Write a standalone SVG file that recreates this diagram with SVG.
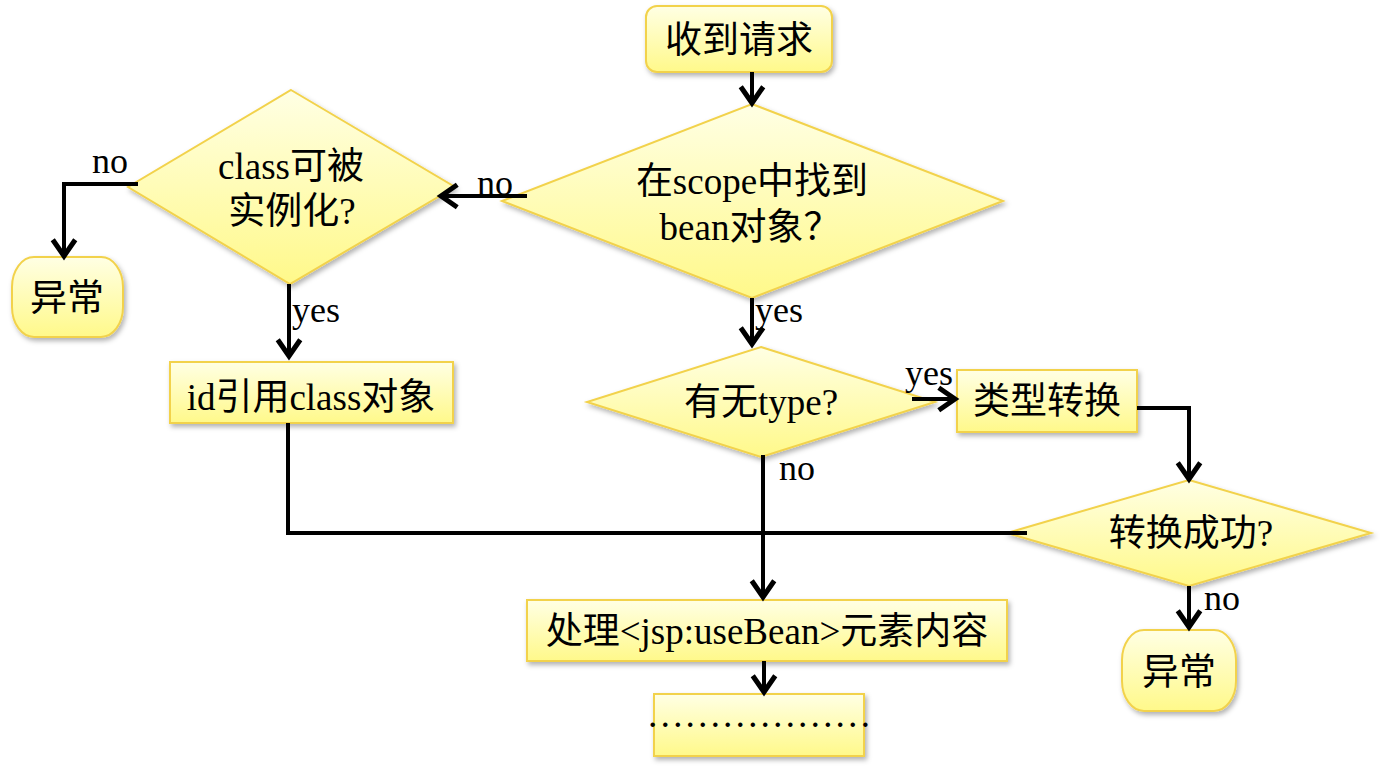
<svg xmlns="http://www.w3.org/2000/svg" width="1381" height="780" viewBox="0 0 1381 780">
<defs>
  <linearGradient id="yel" x1="0" y1="0" x2="0" y2="1">
    <stop offset="0" stop-color="#FFFFE4"/>
    <stop offset="1" stop-color="#FFF98A"/>
  </linearGradient>
  <filter id="sh" x="-10%" y="-10%" width="125%" height="130%">
    <feDropShadow dx="2" dy="3" stdDeviation="2.5" flood-color="#000" flood-opacity="0.3"/>
  </filter>
  <marker id="arr" markerUnits="userSpaceOnUse" markerWidth="30" markerHeight="30" refX="0" refY="0" viewBox="-18 -12 22 24" orient="auto">
    <path d="M-13,-9 L0,0 L-13,9" fill="none" stroke="#000" stroke-width="4" stroke-linejoin="miter"/>
  </marker>
  <style>
    .n{fill:url(#yel);stroke:#F2D24C;stroke-width:2;filter:url(#sh)}
    .t{font-family:"Liberation Serif","Noto Sans CJK SC",serif;font-size:37px;fill:#000;text-anchor:middle}
    .l{font-family:"Liberation Serif","Noto Sans CJK SC",serif;font-size:36px;fill:#000}
    .c{fill:none;stroke:#000;stroke-width:4}
    .a{marker-end:url(#arr)}
  </style>
</defs>
<rect width="1381" height="780" fill="#fff"/>

<g id="start">
  <rect class="n" x="646" y="6" width="186" height="66" rx="11"/>
  <text class="t" x="739" y="53">收到请求</text>
</g>
<g id="findBean">
  <polygon class="n" points="752,104 1003,201 752,298 502,201"/>
  <text class="t" x="752" y="194">在scope中找到</text>
  <text class="t" x="750" y="240">bean对象？</text>
</g>
<g id="canInstantiate">
  <polygon class="n" points="291,90 455,187 290,284 128,187"/>
  <text class="t" x="291" y="179">class可被</text>
  <text class="t" x="292" y="224">实例化?</text>
</g>
<g id="errorLeft">
  <rect class="n" x="12" y="257" width="111" height="80" rx="22" ry="30"/>
  <text class="t" x="67" y="311">异常</text>
</g>
<g id="idRef">
  <rect class="n" x="170" y="362" width="283" height="61"/>
  <text class="t" x="311" y="410">id引用class对象</text>
</g>
<g id="hasType">
  <polygon class="n" points="761,347 935,402 761,457 587,402"/>
  <text class="t" x="761" y="415">有无type?</text>
</g>
<g id="convert">
  <rect class="n" x="957" y="370" width="180" height="62"/>
  <text class="t" x="1047" y="414">类型转换</text>
</g>
<g id="convertOk">
  <polygon class="n" points="1189,480 1371,533 1189,586 1007,533"/>
  <text class="t" x="1191" y="546">转换成功?</text>
</g>
<g id="errorRight">
  <rect class="n" x="1122" y="630" width="114" height="81" rx="22" ry="30"/>
  <text class="t" x="1179" y="685">异常</text>
</g>
<g id="process">
  <rect class="n" x="527" y="600" width="480" height="61"/>
  <text class="t" x="767" y="644">处理&lt;jsp:useBean&gt;元素内容</text>
</g>
<g id="more">
  <rect class="n" x="654" y="694" width="210" height="62"/>
  <text class="t" x="759" y="727" style="font-size:37.5px">………………</text>
</g>

<g id="connectors">
  <line class="c a" x1="752" y1="72" x2="752" y2="103"/>
  <polyline class="c a" points="527,196 441,196"/>
  <polyline class="c a" points="138,184 64,184 64,256"/>
  <line class="c a" x1="289" y1="284" x2="289" y2="356"/>
  <line class="c a" x1="752" y1="298" x2="752" y2="344"/>
  <line class="c a" x1="912" y1="399" x2="955" y2="399"/>
  <polyline class="c a" points="1137,408 1189,408 1189,479"/>
  <line class="c a" x1="763" y1="455" x2="763" y2="597"/>
  <polyline class="c" points="288,423 288,533 1027,533"/>
  <line class="c a" x1="1189" y1="586" x2="1189" y2="627"/>
  <line class="c a" x1="764" y1="661" x2="764" y2="692"/>
  <text class="l" x="92" y="173">no</text>
  <text class="l" x="477" y="195">no</text>
  <text class="l" x="292" y="322">yes</text>
  <text class="l" x="755" y="322">yes</text>
  <text class="l" x="905" y="385">yes</text>
  <text class="l" x="779" y="480">no</text>
  <text class="l" x="1204" y="610">no</text>
</g>
</svg>
